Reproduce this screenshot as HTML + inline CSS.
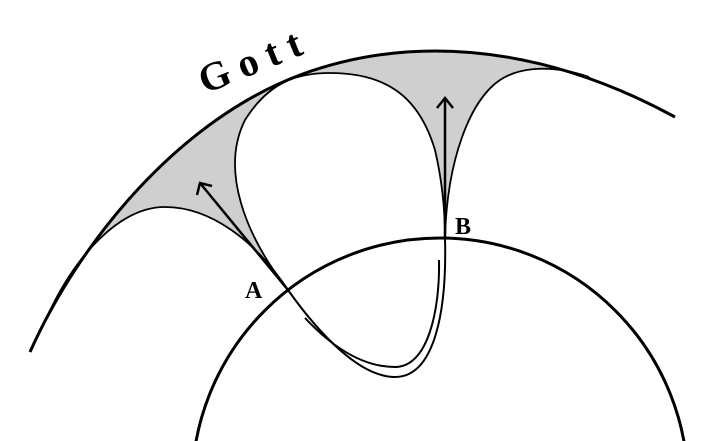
<!DOCTYPE html>
<html><head><style>body{margin:0;background:#fff;overflow:hidden}svg{display:block}</style></head><body>
<svg width="709" height="441" viewBox="0 0 709 441" xmlns="http://www.w3.org/2000/svg">
<path d="M46.5,318 C100,217 192,115 300,75 C380,45 479,40 589,77 C545,62 515,70 500,80 C470,100 447,160 445,238 C445,210 442,180 435,150 C420,100 390,73 330,73 C300,73 270,80 245,120 C220,170 245,235 288,290 C255,240 210,207 165,207 C120,207 75,255 46.5,318 Z" fill="#cfcfcf"/>
<g fill="none" stroke="#000">
<path d="M30,352 C80,240 180,120 300,75 C400,38 530,38 675,117" stroke-width="3"/>
<path d="M288,290 C255,240 210,207 165,207 C120,207 75,255 46.5,318" stroke-width="1.8"/>
<path d="M288,290 C245,235 220,170 245,120 C270,80 300,73 330,73 C390,73 420,100 435,150 C442,180 445,210 445,238" stroke-width="1.8"/>
<path d="M445,238 C447,160 470,100 500,80 C515,70 545,62 589,77" stroke-width="1.8"/>
<circle cx="440" cy="486" r="248" stroke-width="3"/>
<path d="M288,290 L200,183" stroke-width="2.5"/>
<path d="M197,195 L200,183 L212,186" stroke-width="2.5"/>
<path d="M445,238 L445,98" stroke-width="2.5"/>
<path d="M437,108 L445,98 L453,108" stroke-width="2.5"/>
<path d="M288,290 C320,335 360,377 395,377 C435,377 447,310 445,238" stroke-width="2"/>
<path d="M305,318 C335,350 365,367 395,367 C428,367 440,310 439,260" stroke-width="2"/>
</g>
<g font-family="Liberation Serif, serif" font-weight="bold" fill="#000">
<text x="245" y="298" font-size="24">A</text>
<text x="455" y="234" font-size="24">B</text>
<text x="205" y="94" font-size="40" letter-spacing="10" transform="rotate(-22 205 94)">Gott</text>
</g>
</svg>
</body></html>
